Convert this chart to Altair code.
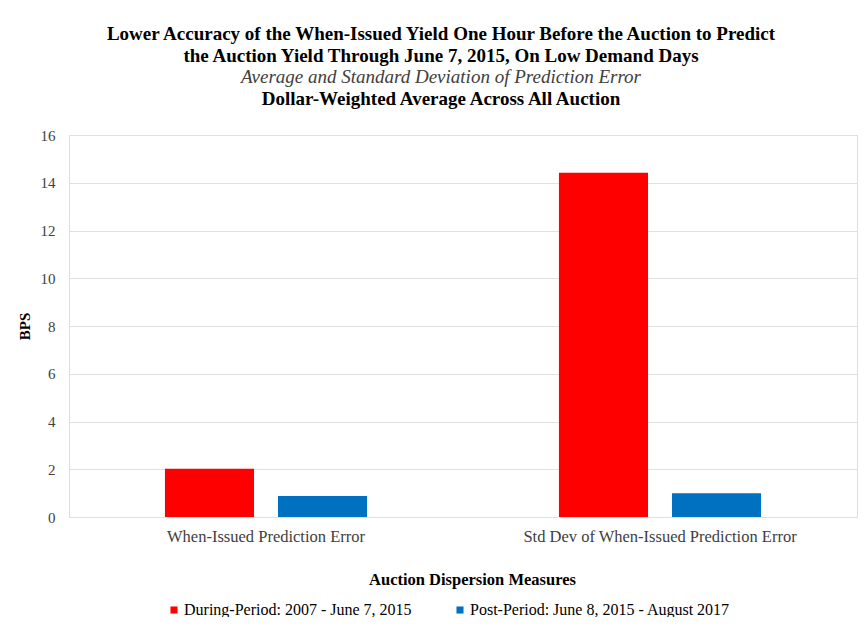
import altair as alt
import pandas as pd

categories = ["When-Issued Prediction Error", "Std Dev of When-Issued Prediction Error"]
series = ["During-Period: 2007 - June 7, 2015", "Post-Period: June 8, 2015 - August 2017"]
during_values = [2.02, 14.42]
post_values = [0.88, 1.0]
colors = ["#FF0000", "#0070C0"]
y_ticks = [0, 2, 4, 6, 8, 10, 12, 14, 16]

title_lines = [
    "Lower Accuracy of the When-Issued Yield One Hour Before the Auction to Predict",
    "the Auction Yield Through June 7, 2015, On Low Demand Days",
]
subtitle_line = "Average and Standard Deviation of Prediction Error"
title_line4 = "Dollar-Weighted Average Across All Auction"

rows = []
for c, d, p in zip(categories, during_values, post_values):
    rows.append({"measure": c, "period": series[0], "bps": d})
    rows.append({"measure": c, "period": series[1], "bps": p})
df = pd.DataFrame(rows)

FONT = "Liberation Serif"

bars = alt.Chart(df).mark_bar().encode(
    x=alt.X("measure:N", sort=categories,
            scale=alt.Scale(paddingInner=0.487, paddingOuter=0.2435),
            axis=alt.Axis(title="Auction Dispersion Measures", labelAngle=0,
                          labelFontSize=16.5, labelFont=FONT, labelColor="#404040",
                          labelLimit=0,
                          titleFont=FONT, titleFontSize=16.5, titleFontWeight="bold",
                          titleColor="#000000", titlePadding=27, labelPadding=11,
                          titleX=403,
                          ticks=False, domain=False)),
    xOffset=alt.XOffset("period:N", sort=series,
                        scale=alt.Scale(paddingInner=0.212, paddingOuter=0)),
    y=alt.Y("bps:Q", scale=alt.Scale(domain=[0, 16]),
            axis=alt.Axis(title="BPS", values=y_ticks, grid=True, gridColor="#E0E0E0",
                          ticks=False, domain=False, labelFont=FONT, labelFontSize=15,
                          labelColor="#404040", labelPadding=14,
                          titleFont=FONT, titleFontSize=15, titleFontWeight="bold",
                          titleColor="#000000", titlePadding=8)),
    color=alt.Color("period:N", sort=series,
                    scale=alt.Scale(domain=series, range=colors),
                    legend=alt.Legend(title=None, orient="none", direction="horizontal",
                                      legendX=97, legendY=467,
                                      symbolType="square", symbolSize=50,
                                      symbolStrokeWidth=0, labelLimit=0,
                                      labelFont=FONT, labelFontSize=16, labelColor="#000000",
                                      columnPadding=40, labelOffset=2)),
)

line4 = alt.Chart(pd.DataFrame({"t": [title_line4]})).mark_text(
    font=FONT, fontSize=19, fontWeight="bold", color="#000000", baseline="middle",
    align="center"
).encode(text="t:N", x=alt.value(372), y=alt.value(-36))

chart = alt.layer(bars, line4).properties(
    width=788,
    height=382,
    autosize=alt.AutoSizeParams(type="none"),
    padding={"left": 61, "top": 127, "right": 2, "bottom": 100},
    title=alt.TitleParams(
        text=title_lines,
        subtitle=[subtitle_line],
        font=FONT, fontSize=19, fontWeight="bold", color="#000000",
        subtitleFont=FONT, subtitleFontSize=19, subtitleFontStyle="italic",
        subtitleColor="#404040", subtitlePadding=2, lineHeight=22,
        subtitleLineHeight=22,
        anchor="middle", dx=-22, offset=3,
    ),
).configure_view(stroke=None).configure(background="white")

chart.save("out.html", embed_options={"renderer": "svg", "actions": False})
